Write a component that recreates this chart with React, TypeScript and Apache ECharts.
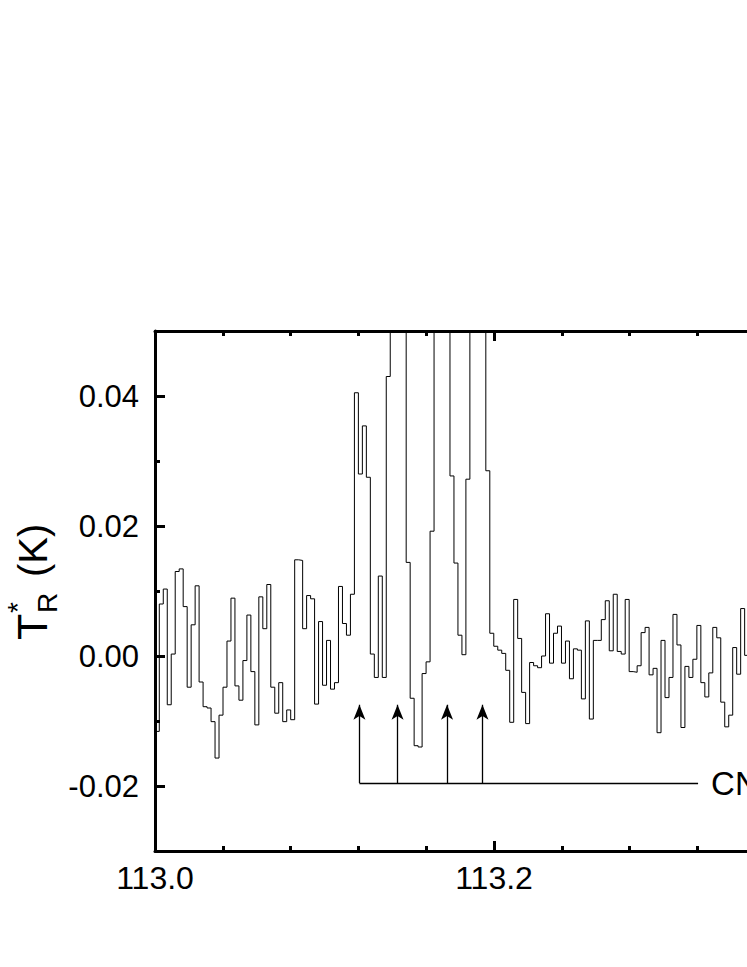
import React, { useEffect, useRef } from "react";
import * as echarts from "echarts";

// Spectrum: rest frequency (GHz) of the left edge of the first channel and channel width
const freqStart = 113.00018;
const channelWidth = 0.0023493;

// T_R* in mK, one value per channel (peaks above 0.05 K are clipped in the figure)
const intensityMilliK = [
  -11.6, 8.0, 10.3, -7.5, 0.3, 13.0, 13.4, 7.6, -4.8, 4.8,
  10.8, -4.0, -7.8, -8.0, -10.1, -15.7, -9.1, -4.8, 2.3, 8.9,
  -4.6, -6.8, -0.7, 6.3, -2.4, -10.6, 9.1, 4.2, 11.0, -4.8,
  -8.8, -4.1, -10.1, -8.3, -9.8, 14.8, 14.7, 4.2, 9.3, 8.8,
  -7.4, 5.3, -4.5, 2.4, -5.1, -4.1, 10.7, 5.0, 3.2, 9.5,
  40.5, 28.0, 35.4, 27.5, 0.3, -3.3, 12.3, -3.3, 43.0, 62,
  75, 70, 58, 14.4, -6.5, -13.8, -14.0, -2.7, -0.9, 19.2,
  60, 85, 80, 62, 27.7, 14.3, 3.2, 0.2, 27.2, 65,
  95, 90, 70, 28.5, 3.5, 1.5, 0.9, 0.4, -2.2, -10.2,
  8.7, 2.7, -5.6, -10.4, -1.0, -1.5, -1.8, 0.0, 6.5, -1.1,
  3.5, 4.6, -1.1, 2.3, -3.5, 1.1, 0.9, -6.6, 5.4, -9.7,
  2.4, 2.4, 5.6, 8.5, 0.8, 9.5, 0.7, 0.3, 8.7, -2.4,
  -2.5, -1.5, 3.6, 4.4, -2.9, -1.9, -11.8, 2.4, -6.4, -3.3,
  6.4, 1.7, -11.0, -1.6, -3.3, -0.5, 4.7, -4.1, -6.3, -2.6,
  4.4, 2.8, -7.1, -10.9, -9.1, 1.3, -2.8, 7.3, 0.1, 3.0,
];

// CN hyperfine component markers
const arrowFreqs = [113.1206, 113.1431, 113.1723, 113.1932];
const arrowBase = -0.01955;
const arrowTip = -0.0075;
const markerLineEnd = 113.3204;
const speciesLabel = "CN";

// Axes
const xMin = 113.0;
const xMax = 113.4;
const xMajor = 0.2;
const yMin = -0.03;
const yMax = 0.05;
const yLabelValues = [-0.02, 0.0, 0.02, 0.04];
const yMinorValues = [-0.01, 0.01, 0.03];

const FONT = "'Liberation Sans', Arial, Helvetica, sans-serif";

export default function App() {
  const ref = useRef<HTMLDivElement>(null);

  useEffect(() => {
    if (!ref.current) return;
    const chart = echarts.init(ref.current, null, { renderer: "svg" });

    const spectrum = intensityMilliK.map((v, i) => [
      freqStart + i * channelWidth,
      v / 1000,
    ]);

    const axisLineStyle = { color: "#000", width: 3 };

    const markData: any[] = arrowFreqs.map((f) => [
      { coord: [f, arrowBase], symbol: "none" },
      { coord: [f, arrowTip], symbol: "arrow", symbolSize: [9, 15] },
    ]);
    markData.push([
      { coord: [arrowFreqs[0], arrowBase], symbol: "none" },
      {
        coord: [markerLineEnd, arrowBase],
        symbol: "none",
        label: {
          show: true,
          position: "end",
          formatter: speciesLabel,
          fontSize: 33,
          fontFamily: FONT,
          color: "#000",
          distance: 13,
        },
      },
    ]);

    chart.setOption({
      animation: false,
      backgroundColor: "#fff",
      grid: {
        left: 155,
        top: 331,
        width: 678,
        height: 520,
        containLabel: false,
        outerBoundsMode: "none",
      },
      xAxis: [
        {
          type: "value",
          position: "bottom",
          min: xMin,
          max: xMax,
          interval: xMajor,
          axisLine: { onZero: false, lineStyle: axisLineStyle },
          axisTick: { inside: true, length: 10, lineStyle: { color: "#000", width: 3 } },
          minorTick: { show: true, splitNumber: 5, length: 5, lineStyle: { color: "#000", width: 3 } },
          axisLabel: {
            fontSize: 32,
            fontFamily: FONT,
            color: "#000",
            margin: 11,
            formatter: (v: number) => v.toFixed(1),
          },
          splitLine: { show: false },
          minorSplitLine: { show: false },
        },
        {
          type: "value",
          position: "top",
          min: xMin,
          max: xMax,
          interval: xMajor,
          axisLine: { onZero: false, lineStyle: axisLineStyle },
          axisTick: { inside: true, length: 10, lineStyle: { color: "#000", width: 3 } },
          minorTick: { show: true, splitNumber: 5, length: 5, lineStyle: { color: "#000", width: 3 } },
          axisLabel: { show: false },
          splitLine: { show: false },
          minorSplitLine: { show: false },
        },
      ],
      yAxis: [
        {
          type: "value",
          position: "left",
          min: yMin,
          max: yMax,
          interval: 0.01,
          axisLine: { onZero: false, lineStyle: axisLineStyle },
          axisTick: {
            inside: true,
            length: 10,
            customValues: yLabelValues,
            lineStyle: { color: "#000", width: 3 },
          },
          axisLabel: {
            customValues: yLabelValues,
            fontSize: 31,
            fontFamily: FONT,
            color: "#000",
            margin: 16,
            formatter: (v: number) => (Math.abs(v) < 1e-9 ? "0.00" : v.toFixed(2)),
          },
          splitLine: { show: false },
        },
        {
          type: "value",
          position: "left",
          offset: 0,
          min: yMin,
          max: yMax,
          interval: 0.01,
          axisLine: { show: false },
          axisTick: {
            inside: true,
            length: 5,
            customValues: yMinorValues,
            lineStyle: { color: "#000", width: 3 },
          },
          axisLabel: { show: false },
          splitLine: { show: false },
        },
      ],
      series: [
        {
          type: "line",
          step: "end",
          xAxisIndex: 0,
          yAxisIndex: 0,
          data: spectrum,
          symbol: "none",
          clip: true,
          silent: true,
          lineStyle: { color: "#000", width: 1 },
          markLine: {
            silent: true,
            animation: false,
            precision: 5,
            lineStyle: { color: "#000", width: 1.3, type: "solid" },
            label: { show: false },
            data: markData,
          },
        },
      ],
      graphic: [
        {
          type: "group",
          x: 53,
          y: 640,
          rotation: Math.PI / 2,
          children: [
            {
              type: "text",
              x: 0,
              y: 0,
              style: { text: "T", fontSize: 43, fontFamily: FONT, fill: "#000", verticalAlign: "bottom" },
            },
            {
              type: "text",
              x: 27,
              y: -22,
              style: { text: "*", fontSize: 28, fontFamily: FONT, fill: "#000", verticalAlign: "bottom" },
            },
            {
              type: "text",
              x: 27,
              y: 8,
              style: { text: "R", fontSize: 28, fontFamily: FONT, fill: "#000", verticalAlign: "bottom" },
            },
            {
              type: "text",
              x: 63,
              y: 0,
              style: { text: "(K)", fontSize: 40, fontFamily: FONT, fill: "#000", verticalAlign: "bottom" },
            },
          ],
        },
      ],
    });

    return () => chart.dispose();
  }, []);

  return (
    <div
      ref={ref}
      style={{ position: "absolute", left: 0, top: 0, width: 747, height: 967 }}
    />
  );
}
